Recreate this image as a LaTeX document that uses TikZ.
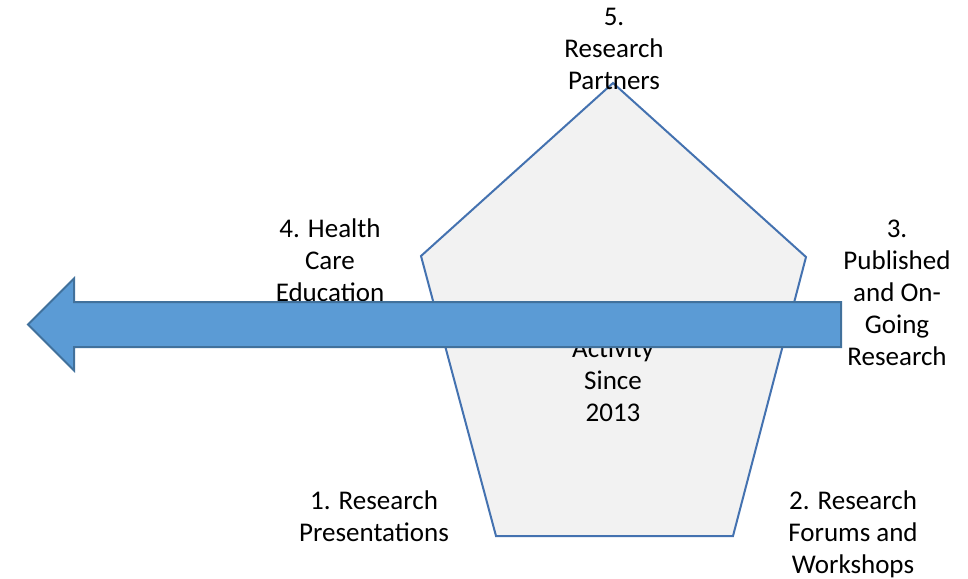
\documentclass[tikz,border=0pt]{standalone}
\usepackage{fontspec}
\setmainfont{Carlito}
\usepackage{tikz}
\usetikzlibrary{positioning}
\definecolor{penfill}{RGB}{242,242,242}
\definecolor{penline}{RGB}{68,114,176}
\definecolor{arrfill}{RGB}{91,155,213}
\definecolor{arrline}{RGB}{65,113,156}

\begin{document}
\begin{tikzpicture}[
      x=1pt, y=-1pt,
      pent/.style={draw=penline, line width=2pt, fill=penfill},
      bigarrow/.style={draw=arrline, line width=2pt, fill=arrfill},
      lab/.style={align=center, inner sep=0pt, anchor=base, font=\fontsize{27}{32}\selectfont}
    ]
      \useasboundingbox (0,0) rectangle (968,578);

      % pentagon
      \draw[pent] (613,83) -- (806,257) -- (733,536) -- (496,536) -- (421,256) -- cycle;
      \node[lab] (centre) at (613,421) {Activity\\Since\\2013};

      % labels round the pentagon
      \node[lab] (partners) at (614,89) {5.\\Research\\Partners};
      \node[lab] (health) at (330,301) {4. Health\\Care\\Education};
      \node[lab] (published) at (897,365) {3.\\Published\\and On-\\Going\\Research};
      \node[lab] (presentations) at (374,541) {1. Research\\Presentations};
      \node[lab] (forums) at (853,573) {2. Research\\Forums and\\Workshops};

      % big arrow to the left
      \draw[bigarrow] (841,302) -- (74,302) -- (74,278.5) -- (28,324.5)
        -- (74,370.5) -- (74,347) -- (841,347) -- cycle;
    \end{tikzpicture}
\end{document}
